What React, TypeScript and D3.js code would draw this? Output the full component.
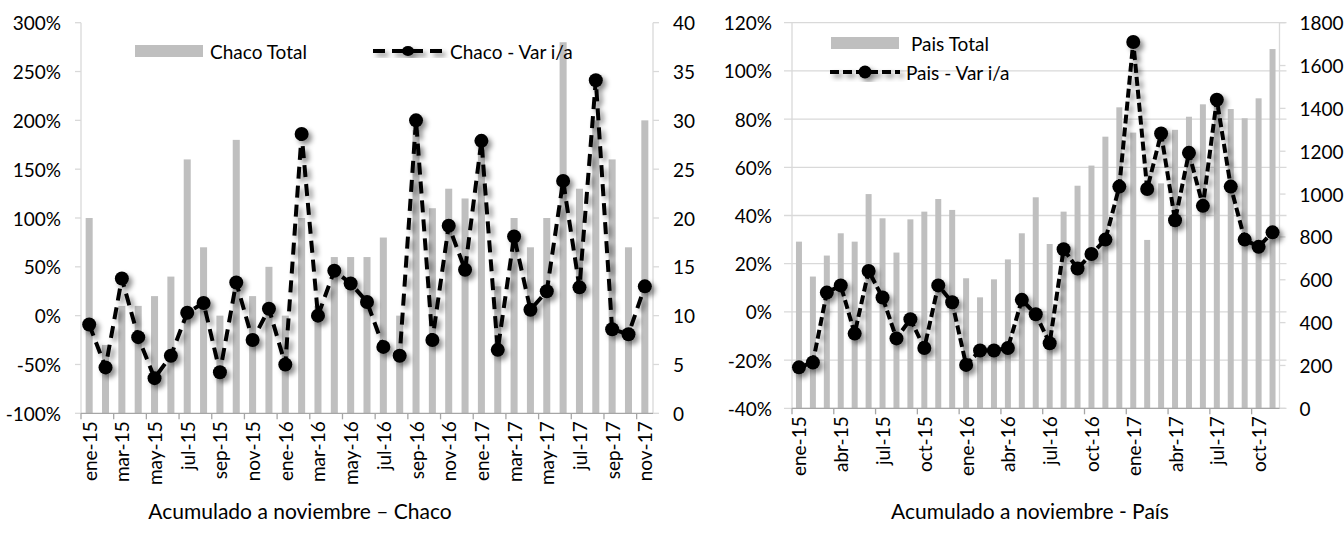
import React from "react";
import * as d3 from "d3";

const months: string[] = [
  "ene-15","feb-15","mar-15","abr-15","may-15","jun-15","jul-15","ago-15","sep-15","oct-15","nov-15","dic-15",
  "ene-16","feb-16","mar-16","abr-16","may-16","jun-16","jul-16","ago-16","sep-16","oct-16","nov-16","dic-16",
  "ene-17","feb-17","mar-17","abr-17","may-17","jun-17","jul-17","ago-17","sep-17","oct-17","nov-17",
];

const chacoTotal: number[] = [20,7,11,11,12,14,26,17,10,28,12,15,10,20,11,16,16,16,18,10,29,21,23,22,27,13,20,17,20,38,23,30,26,17,30];
const chacoVar: number[] = [-9,-53,38,-22,-64,-41,3,13,-58,34,-25,7,-50,186,0,46,33,14,-32,-41,200,-25,92,47,179,-35,81,6,25,138,29,241,-14,-19,30];

const paisTotal: number[] = [778,615,713,817,778,1000,887,727,882,918,977,926,607,518,602,695,817,985,767,918,1039,1133,1268,1405,1287,786,1050,1300,1361,1419,1440,1397,1354,1447,1677];
const paisVar: number[] = [-23,-21,8,11,-9,17,6,-11,-3,-15,11,4,-22,-16,-16,-15,5,-1,-13,26,18,24,30,52,112,51,74,38,66,44,88,52,30,27,33];

const chacoPctTicks: number[] = [-100,-50,0,50,100,150,200,250,300];
const chacoCountTicks: number[] = [0,5,10,15,20,25,30,35,40];
const paisPctTicks: number[] = [-40,-20,0,20,40,60,80,100,120];
const paisCountTicks: number[] = [0,200,400,600,800,1000,1200,1400,1600,1800];

const FONT = "Lato, 'Open Sans', sans-serif";
const BAR = "#bfbfbf";

type PanelProps = {
  x0: number; x1: number; yTop: number; yBot: number;
  totals: number[]; vars: number[];
  pctDomain: [number, number]; countDomain: [number, number];
  pctTicks: number[]; countTicks: number[];
  labelEvery: number; grid: boolean;
  dash: string; id: string;
};

function Panel(p: PanelProps) {
  const x = d3.scaleBand<string>().domain(months).range([p.x0, p.x1]).paddingInner(0.57).paddingOuter(0.285);
  const yP = d3.scaleLinear().domain(p.pctDomain).range([p.yBot, p.yTop]);
  const yC = d3.scaleLinear().domain(p.countDomain).range([p.yBot, p.yTop]);
  const step = x.step();
  const cx = (m: string) => (x(m) as number) + x.bandwidth() / 2;
  const line = d3.line<number>().x((_, i) => cx(months[i])).y((v) => yP(v));
  const fmtPct = (v: number) => `${v}%`;
  const gridColor = "#d9d9d9";
  const tickBounds = months.map((_, i) => i).filter((i) => i % p.labelEvery === 0);
  return (
    <g>
      {p.grid && p.pctTicks.map((t) => (
        <line key={"g" + t} x1={p.x0 - 8} x2={p.x1 + 7} y1={yP(t)} y2={yP(t)} stroke={gridColor} strokeWidth={1.3} />
      ))}
      <line x1={p.x0} x2={p.x0} y1={p.yTop} y2={p.yBot} stroke={gridColor} strokeWidth={1.3} />
      {!p.grid && p.pctTicks.map((t) => (
        <line key={"lt" + t} x1={p.x0 - 6} x2={p.x0} y1={yP(t)} y2={yP(t)} stroke={gridColor} strokeWidth={1.3} />
      ))}
      {p.pctTicks.map((t) => (
        <text key={"ll" + t} x={p.x0 - 20} y={yP(t)} textAnchor="end" dominantBaseline="central" fontFamily={FONT} fontSize={19} fill="#000">{fmtPct(t)}</text>
      ))}
      <line x1={p.x1} x2={p.x1} y1={p.yTop} y2={p.yBot} stroke={gridColor} strokeWidth={1.3} />
      {p.countTicks.map((t) => (
        <line key={"rt" + t} x1={p.x1} x2={p.x1 + 6} y1={yC(t)} y2={yC(t)} stroke={gridColor} strokeWidth={1.3} />
      ))}
      {p.countTicks.map((t) => (
        <text key={"rl" + t} x={p.x1 + 20} y={yC(t)} textAnchor="start" dominantBaseline="central" fontFamily={FONT} fontSize={19} fill="#000">{t}</text>
      ))}
      {p.totals.map((v, i) => (
        <rect key={"b" + i} x={x(months[i])} y={yC(v)} width={x.bandwidth()} height={p.yBot - yC(v)} fill={BAR} />
      ))}
      <line x1={p.x0} x2={p.x1} y1={p.yBot} y2={p.yBot} stroke="#a6a6a6" strokeWidth={1.3} />
      {tickBounds.map((i) => (
        <line key={"bt" + i} x1={p.x0 + step * i} x2={p.x0 + step * i} y1={p.yBot} y2={p.yBot + 6} stroke="#a6a6a6" strokeWidth={1.3} />
      ))}
      {tickBounds.map((i) => (
        <text key={"bl" + i} transform={`translate(${cx(months[i])},${p.yBot + 8}) rotate(-90)`} textAnchor="end" dominantBaseline="central" fontFamily={FONT} fontSize={19} fill="#000">{months[i]}</text>
      ))}
      <g filter={`url(#${p.id})`}>
        <path d={line(p.vars) || ""} fill="none" stroke="#000" strokeWidth={4} strokeDasharray={p.dash} />
        {p.vars.map((v, i) => (
          <circle key={"c" + i} cx={cx(months[i])} cy={yP(v)} r={7} fill="#000" />
        ))}
      </g>
    </g>
  );
}

export default function App() {
  return (
    <svg width={1344} height={544} style={{ position: "absolute", left: 0, top: 0, background: "#fff" }}>
      <defs>
        <filter id="shA" x="-20%" y="-20%" width="140%" height="140%">
          <feDropShadow dx={3.5} dy={3.5} stdDeviation={2.5} floodColor="#000" floodOpacity={0.45} />
        </filter>
        <filter id="shB" x="-20%" y="-20%" width="140%" height="140%">
          <feDropShadow dx={3.5} dy={3.5} stdDeviation={2.5} floodColor="#000" floodOpacity={0.45} />
        </filter>
      </defs>
      <rect width={1344} height={544} fill="#fff" />
      <Panel x0={81} x1={653} yTop={22.7} yBot={413.3} totals={chacoTotal} vars={chacoVar}
        pctDomain={[-100, 300]} countDomain={[0, 40]} pctTicks={chacoPctTicks} countTicks={chacoCountTicks}
        labelEvery={2} grid={false} dash="12 7" id="shA" />
      <Panel x0={792} x1={1279.5} yTop={22.7} yBot={408.3} totals={paisTotal} vars={paisVar}
        pctDomain={[-40, 120]} countDomain={[0, 1800]} pctTicks={paisPctTicks} countTicks={paisCountTicks}
        labelEvery={3} grid={true} dash="9 4" id="shB" />
      <rect x={135} y={45} width={68} height={12} fill={BAR} />
      <text x={210} y={51} dominantBaseline="central" fontFamily={FONT} fontSize={19}>Chaco Total</text>
      <g filter="url(#shA)">
        <line x1={373} x2={442} y1={51} y2={51} stroke="#000" strokeWidth={4} strokeDasharray="12 7" />
        <ellipse cx={408} cy={51} rx={6} ry={5} fill="#000" />
      </g>
      <text x={450} y={51} dominantBaseline="central" fontFamily={FONT} fontSize={19}>Chaco - Var i/a</text>

      <rect x={831} y={37} width={68} height={12} fill={BAR} />
      <text x={911} y={43} dominantBaseline="central" fontFamily={FONT} fontSize={19}>Pais Total</text>
      <g filter="url(#shB)">
        <line x1={830} x2={900} y1={72} y2={72} stroke="#000" strokeWidth={4} strokeDasharray="9 4" />
        <circle cx={865} cy={72} r={6.5} fill="#000" />
      </g>
      <text x={906} y={72} dominantBaseline="central" fontFamily={FONT} fontSize={19}>Pais - Var i/a</text>

      <text x={300} y={510} textAnchor="middle" dominantBaseline="central" fontFamily={FONT} fontSize={21}>Acumulado a noviembre – Chaco</text>
      <text x={1030} y={510} textAnchor="middle" dominantBaseline="central" fontFamily={FONT} fontSize={21}>Acumulado a noviembre - País</text>
    </svg>
  );
}
